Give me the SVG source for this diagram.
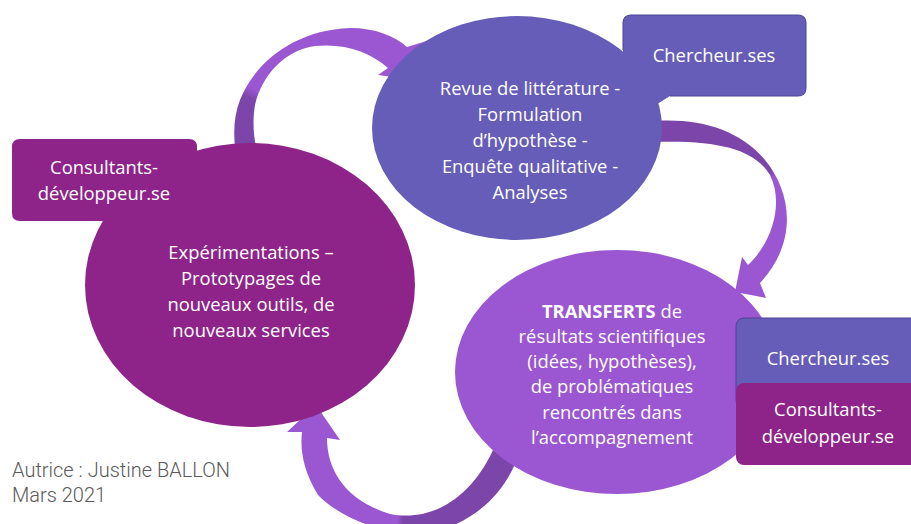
<svg xmlns="http://www.w3.org/2000/svg" width="911" height="524" viewBox="0 0 911 524">
<style>
.t{font-family:"Open Sans","Liberation Sans",sans-serif;font-size:18.4px;fill:#ffffff;text-anchor:middle}
.a{font-family:Roboto,"Liberation Sans",sans-serif;font-weight:300;font-size:20px;fill:#595959}
</style>
<defs>
<linearGradient id="gTop" gradientUnits="userSpaceOnUse" x1="248" y1="130" x2="275" y2="70">
<stop offset="0" stop-color="#7C45A9"/><stop offset="0.45" stop-color="#7C45A9"/><stop offset="0.6" stop-color="#9B56D1"/><stop offset="1" stop-color="#9B56D1"/>
</linearGradient>
<linearGradient id="gRight" gradientUnits="userSpaceOnUse" x1="760" y1="150" x2="785" y2="195">
<stop offset="0" stop-color="#7C45A9"/><stop offset="0.45" stop-color="#7C45A9"/><stop offset="0.6" stop-color="#9B56D1"/><stop offset="1" stop-color="#9B56D1"/>
</linearGradient>
<linearGradient id="gBot" gradientUnits="userSpaceOnUse" x1="385" y1="0" x2="415" y2="0">
<stop offset="0" stop-color="#9B56D1"/><stop offset="0.4" stop-color="#9B56D1"/><stop offset="0.6" stop-color="#7C45A9"/><stop offset="1" stop-color="#7C45A9"/>
</linearGradient>
</defs>
<g id="connectors">
<path id="arrow-top" fill="url(#gTop)" d="M252,200 C236,172 228,130 240,100 C255,62 295,30 350,28 C375,28 395,36 407,47 L430,40 L444,84 L378,75 L388,68 C370,52 345,43 315,46 C285,50 262,75 255,105 C250,135 258,165 273,185 Z"/>
<path id="arrow-right" fill="url(#gRight)" d="M655,121 C700,118 740,130 765,160 C790,190 800,240 760,283 L766,298 L735,292 L742,257 L748,265 C770,245 785,205 770,175 C755,150 720,140 655,142 Z"/>
<path id="arrow-bottom" fill="url(#gBot)" d="M520,450 C510,485 480,525 420,535 C385,535 340,518 318,495 C303,470 300,450 302,432 L287,432 L316,405 L340,440 L327,438 C327,470 345,500 390,514 C430,522 470,500 493,450 L500,430 Z"/>
</g>
<g id="callout-chercheur-top">
<path fill="#665DB8" d="M631,15 H798 Q806,15 806,23 V88 Q806,96 798,96 H670 L600,140 L628,96 H631 Q623,96 623,88 V23 Q623,15 631,15 Z"/>
<path fill="none" stroke="#4B4494" stroke-width="1" d="M623,50 V23 Q623,15 631,15 H798 Q806,15 806,23 V88 Q806,96 798,96 H670"/>
<text class="t" x="714" y="62">Chercheur.ses</text>
</g>
<g id="node-experimentations">
<ellipse cx="250" cy="285" rx="165" ry="142" fill="#8E2489"/>
<text class="t" x="251" y="259">Expérimentations –</text>
<text class="t" x="251" y="285">Prototypages de</text>
<text class="t" x="251" y="311">nouveaux outils, de</text>
<text class="t" x="251" y="337">nouveaux services</text>
</g>
<g id="node-revue">
<ellipse cx="517" cy="128" rx="145" ry="112" fill="#665DB8"/>
<text class="t" x="530" y="95">Revue de littérature -</text>
<text class="t" x="530" y="121">Formulation</text>
<text class="t" x="530" y="147">d’hypothèse -</text>
<text class="t" x="530" y="173">Enquête qualitative -</text>
<text class="t" x="530" y="199">Analyses</text>
</g>
<g id="node-transferts">
<ellipse cx="617" cy="372" rx="162" ry="122" fill="#9B56D1"/>
<text class="t" x="612" y="318"><tspan font-weight="bold">TRANSFERTS</tspan> de</text>
<text class="t" x="612" y="343">résultats scientifiques</text>
<text class="t" x="612" y="368">(idées, hypothèses),</text>
<text class="t" x="612" y="393">de problématiques</text>
<text class="t" x="612" y="419">rencontrés dans</text>
<text class="t" x="612" y="444">l’accompagnement</text>
</g>
<g id="callout-consultants-left">
<path fill="#8E2489" d="M20,139 H189 Q197,139 197,147 V163 L230,170 L197,200 V213 Q197,221 189,221 H20 Q12,221 12,213 V147 Q12,139 20,139 Z"/>
<text class="t" x="104" y="174">Consultants-</text>
<text class="t" x="104" y="200">développeur.se</text>
</g>
<g id="box-chercheur-right">
<rect x="736" y="318" width="190" height="90" rx="8" fill="#665DB8" stroke="#4B4494" stroke-width="1"/>
<text class="t" x="828" y="365">Chercheur.ses</text>
</g>
<g id="box-consultants-right">
<rect x="736" y="383" width="190" height="82" rx="8" fill="#8E2489"/>
<text class="t" x="828" y="416">Consultants-</text>
<text class="t" x="828" y="443">développeur.se</text>
</g>
<g id="author">
<text class="a" x="12" y="477">Autrice : Justine BALLON</text>
<text class="a" x="12" y="502">Mars 2021</text>
</g>
</svg>
